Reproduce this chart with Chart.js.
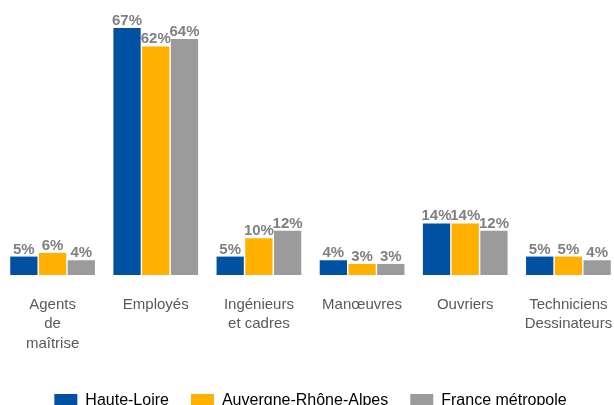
<!DOCTYPE html>
<html>
<head>
<meta charset="utf-8">
<script src="https://cdn.jsdelivr.net/npm/chart.js@4/dist/chart.umd.min.js"></script>
<style>
    html, body { margin: 0; padding: 0; background: #fff; }
    #wrap { width: 614px; height: 405px; overflow: hidden; }
</style>
</head>
<body>
<div id="wrap"><canvas id="chart" width="621" height="420"></canvas></div>
<script>
// catégories socioprofessionnelles
const categories = [
    ["Agents", "de", "maîtrise"],
    "Employés",
    ["Ingénieurs", "et cadres"],
    "Manœuvres",
    "Ouvriers",
    ["Techniciens", "Dessinateurs"],
];
const hauteLoire = [5, 67, 5, 4, 14, 5];
const auvergneRhoneAlpes = [6, 62, 10, 3, 14, 5];
const franceMetropole = [4, 64, 12, 3, 12, 4];

// étiquettes au-dessus des barres
const valueLabels = {
    id: "valueLabels",
    afterDatasetsDraw(chart) {
        const ctx = chart.ctx;
        ctx.save();
        ctx.font = "bold 15px 'Liberation Sans', Arial, sans-serif";
        ctx.fillStyle = "#808080";
        ctx.textAlign = "center";
        ctx.textBaseline = "alphabetic";
        chart.data.datasets.forEach((ds, i) => {
            chart.getDatasetMeta(i).data.forEach((bar, j) => {
                ctx.fillText(ds.data[j] + "%", bar.x, bar.y - 3);
            });
        });
        ctx.restore();
    },
};

new Chart(document.getElementById("chart").getContext("2d"), {
    type: "bar",
    data: {
        labels: categories,
        datasets: [
            { label: "Haute-Loire", data: hauteLoire, backgroundColor: "#0051a2" },
            { label: "Auvergne-Rhône-Alpes", data: auvergneRhoneAlpes, backgroundColor: "#ffb000" },
            { label: "France métropole", data: franceMetropole, backgroundColor: "#9b9b9b" },
        ],
    },
    options: {
        responsive: false,
        animation: false,
        categoryPercentage: 0.835,
        barPercentage: 0.95,
        layout: { padding: { top: 17, left: 1, right: 1, bottom: 1 } },
        scales: {
            x: {
                grid: { display: false, drawTicks: true, tickLength: 18 },
                border: { display: false },
                ticks: {
                    color: "#595959",
                    font: { family: "'Liberation Sans', Arial, sans-serif", size: 15, lineHeight: 1.3 },
                    padding: 2,
                    maxRotation: 0,
                    autoSkip: false,
                },
                afterFit: (scale) => { scale.height = 96; },
            },
            y: {
                display: false,
                min: 0,
                max: 70,
            },
        },
        plugins: {
            legend: {
                position: "bottom",
                labels: {
                    color: "#000",
                    font: { family: "'Liberation Sans', Arial, sans-serif", size: 16 },
                    boxWidth: 23,
                    boxHeight: 14,
                    padding: 22,
                },
            },
            tooltip: { enabled: false },
        },
    },
    plugins: [valueLabels],
});
</script>
</body>
</html>
